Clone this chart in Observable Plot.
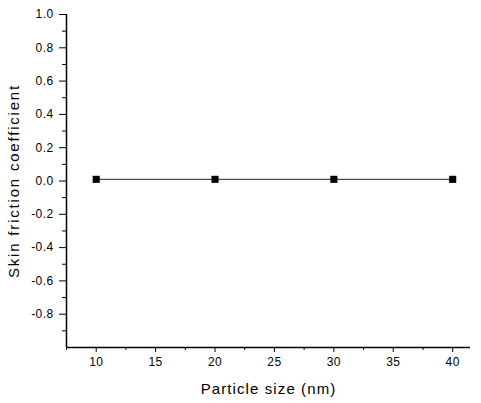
<!DOCTYPE html>
<html>
<head>
<meta charset="utf-8">
<script src="https://cdn.jsdelivr.net/npm/d3@7"></script>
<script src="https://cdn.jsdelivr.net/npm/@observablehq/plot@0.6"></script>
<style>
  html, body { margin: 0; padding: 0; background: #fff; }
  #chart svg { display: block; }
</style>
</head>
<body>
<div id="chart"></div>
<script>
const particleSize = [10, 20, 30, 40];
const skinFriction = [0.01, 0.01, 0.01, 0.01];
const xMajorTicks = [10, 15, 20, 25, 30, 35, 40];
const xMinorTicks = [7.5, 12.5, 17.5, 22.5, 27.5, 32.5, 37.5];
const yMajorTicks = [-0.8, -0.6, -0.4, -0.2, 0.0, 0.2, 0.4, 0.6, 0.8, 1.0];
const yMinorTicks = [-0.9, -0.7, -0.5, -0.3, -0.1, 0.1, 0.3, 0.5, 0.7, 0.9];
const xTitle = "Particle size (nm)";
const yTitle = "Skin friction coefficient";

const data = particleSize.map((x, i) => ({x, y: skinFriction[i]}));

const chart = Plot.plot({
  width: 481,
  height: 403,
  marginLeft: 66,
  marginRight: 11,
  marginTop: 14,
  marginBottom: 56,
  style: {fontFamily: "Liberation Sans, Arial, sans-serif", fontSize: "12px", color: "#000", background: "#fff"},
  x: {domain: [7.5, 41.5]},
  y: {domain: [-1, 1]},
  marks: [
    Plot.axisX({ticks: xMajorTicks, tickSize: 5, tickPadding: 5, tickFormat: d => String(d), label: null, fontSize: 12}),
    Plot.axisX({ticks: xMinorTicks, tickSize: 3, text: null, label: null}),
    Plot.axisY({ticks: yMajorTicks, tickSize: 7, tickPadding: 6, tickFormat: d => d.toFixed(1), label: null, fontSize: 12}),
    Plot.axisY({ticks: yMinorTicks, tickSize: 4, text: null, label: null}),
    Plot.ruleX([7.5], {stroke: "#000", strokeWidth: 1.5}),
    Plot.ruleY([-1], {stroke: "#000", strokeWidth: 1.5}),
    Plot.line(data, {x: "x", y: "y", stroke: "#222", strokeWidth: 1}),
    Plot.dot(data, {x: "x", y: "y", symbol: "square", fill: "#000", stroke: "none", r: 4}),
    Plot.text([xTitle], {frameAnchor: "bottom", textAnchor: "middle", lineAnchor: "middle", dy: 42, fontSize: 15, text: d => d, fill: "#000"}),
    Plot.text([yTitle], {frameAnchor: "left", textAnchor: "middle", lineAnchor: "middle", dx: -52, rotate: -90, fontSize: 15, text: d => d, fill: "#000"})
  ]
});
d3.select(chart).selectAll("text").each(function() {
  const t = this.textContent;
  if (t === xTitle) d3.select(this).style("letter-spacing", "1.1px");
  else if (t === yTitle) d3.select(this).style("letter-spacing", "1.8px");
});
d3.select(chart).selectAll("g[aria-label='y-axis tick label'] text, g[aria-label='x-axis tick label'] text").style("letter-spacing", "0.4px");
document.getElementById("chart").appendChild(chart);
</script>
</body>
</html>
